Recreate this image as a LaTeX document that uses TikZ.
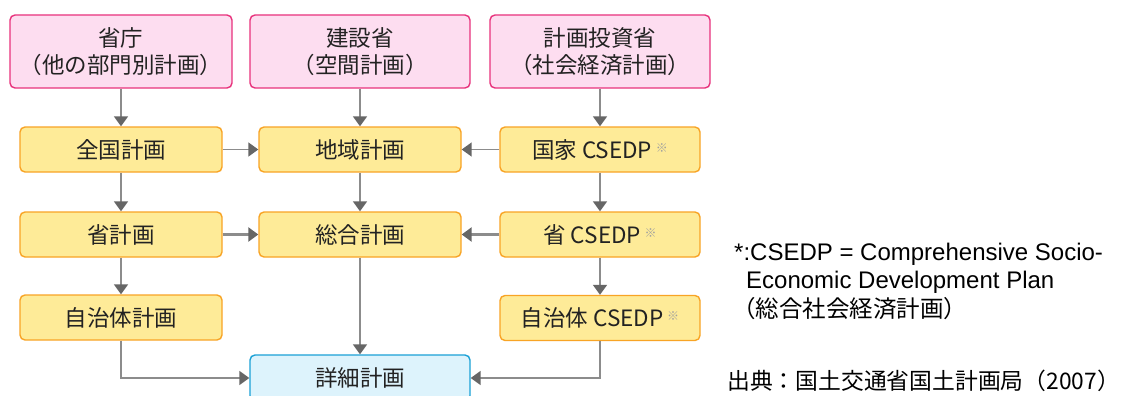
\documentclass[tikz,border=0pt]{standalone}
\usepackage{fontspec}
\setmainfont{Liberation Sans}
\newfontfamily\jp{Noto Sans CJK JP}
\usetikzlibrary{arrows.meta}
\definecolor{pinkfill}{HTML}{FDDDF0}
\definecolor{pinkline}{HTML}{E8327C}
\definecolor{orfill}{HTML}{FEEB98}
\definecolor{orline}{HTML}{F8A425}
\definecolor{bluefill}{HTML}{DDF3FC}
\definecolor{blueline}{HTML}{1BA1D6}
\definecolor{arr}{HTML}{8C8C8C}
\definecolor{arrhead}{HTML}{666666}
\definecolor{txt}{HTML}{222222}
\tikzset{
  topbox/.style={draw=pinkline, fill=pinkfill, line width=1.4pt, rounded corners=5pt,
    minimum width=222pt, minimum height=73pt, inner sep=0pt, align=center,
    font=\jp\fontsize{22.5}{27}\selectfont, text=txt},
  orbox/.style={draw=orline, fill=orfill, line width=1.4pt, rounded corners=5pt,
    minimum width=202pt, minimum height=45pt, inner sep=0pt,
    font=\jp\fontsize{22.5}{26}\selectfont, text=txt},
  detbox/.style={draw=blueline, fill=bluefill, line width=1.4pt, rounded corners=5pt,
    minimum width=220pt, minimum height=46pt, inner sep=0pt,
    font=\jp\fontsize{22.5}{26}\selectfont, text=txt},
  flow/.style={draw=arr, line width=1.8pt, -{Triangle[width=14pt,length=10pt,color=arrhead,fill=arrhead]}},
  thickflow/.style={flow, line width=3pt},
  note/.style={anchor=base west, inner sep=0pt, text=black, font=\fontsize{24}{28}\selectfont},
}
\newcommand{\kome}{\,\raisebox{6pt}{\textcolor{gray!75}{\fontsize{12}{12}\selectfont ※}}}
\begin{document}
\begin{tikzpicture}[x=1pt,y=-1pt]
\useasboundingbox (0,0) rectangle (1128,396);
\clip (0,0) rectangle (1128,396);
\fill[white] (0,0) rectangle (1128,396);

\node[topbox] (n1) at (121,51.5) {省庁\\（他の部門別計画）};
\node[topbox, minimum width=220pt] (n2) at (360,51.5) {建設省\\（空間計画）};
\node[topbox, minimum width=220pt] (n3) at (600,51.5) {計画投資省\\（社会経済計画）};

\node[orbox] (a1) at (121,149.5) {全国計画};
\node[orbox] (a2) at (360,149.5) {地域計画};
\node[orbox, minimum width=200pt] (a3) at (600,149.5) {国家 CSEDP\kome};

\node[orbox] (b1) at (121,234.5) {省計画};
\node[orbox] (b2) at (360,234.5) {総合計画};
\node[orbox, minimum width=200pt] (b3) at (600,234.5) {省 CSEDP\kome};

\node[orbox] (c1) at (121,317.5) {自治体計画};
\node[orbox, minimum width=200pt] (c3) at (600,318) {自治体 CSEDP\kome};

\node[detbox] (d) at (360,378) {詳細計画};

\coordinate (k1) at (121,378);
\coordinate (k3) at (600,378);

\draw[flow] (n1) -- (a1);
\draw[flow] (n2) -- (a2);
\draw[flow] (n3) -- (a3);
\draw[flow] (a1) -- (a2);
\draw[flow] (a3) -- (a2);
\draw[flow] (a1) -- (b1);
\draw[flow] (a2) -- (b2);
\draw[flow] (a3) -- (b3);
\draw[thickflow] (b1) -- (b2);
\draw[thickflow] (b3) -- (b2);
\draw[flow] (b1) -- (c1);
\draw[flow] (b3) -- (c3);
\draw[flow] (b2) -- (d);
\draw[flow] (c1.south) -- (k1) -- (d.west);
\draw[flow] (c3.south) -- (k3) -- (d.east);

\node[note] (t1) at (734,260) {*:CSEDP = Comprehensive Socio-};
\node[note] (t2) at (746,288) {Economic Development Plan};
\node[note, font=\jp\fontsize{23.5}{27}\selectfont] (t3) at (732,317) {（総合社会経済計画）};
\node[note, font=\jp\fontsize{22.8}{26}\selectfont] (t4) at (727,389) {出典：国土交通省国土計画局（2007）};
\end{tikzpicture}
\end{document}
